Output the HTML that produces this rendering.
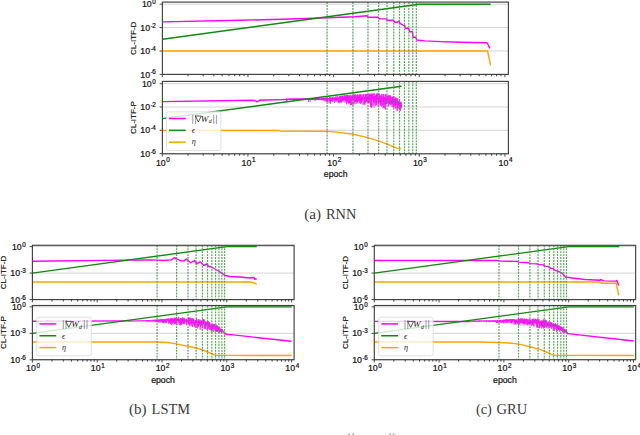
<!DOCTYPE html><html><head><meta charset="utf-8"><style>html,body{margin:0;padding:0;background:#fff;width:640px;height:435px;overflow:hidden}</style></head><body><svg width="640" height="435" viewBox="0 0 640 435" style="display:block">
<style>.tl{font-family:"Liberation Sans",sans-serif;fill:#111;stroke:#111;stroke-width:0.22}.cap{font-family:"Liberation Serif",serif;fill:#3a3a3a}.lg{font-family:"Liberation Serif",serif;font-style:italic;fill:#222}</style>
<rect width="640" height="435" fill="#fff"/>
<line x1="162.4" y1="4.2" x2="508.4" y2="4.2" stroke="#d4d4d4" stroke-width="1.0"/>
<line x1="162.4" y1="27.6" x2="508.4" y2="27.6" stroke="#d4d4d4" stroke-width="1.0"/>
<line x1="162.4" y1="51" x2="508.4" y2="51" stroke="#d4d4d4" stroke-width="1.0"/>
<line x1="162.4" y1="74.4" x2="508.4" y2="74.4" stroke="#d4d4d4" stroke-width="1.0"/>
<path d="M162.4 21.9 L240 20.3 L300 18.75 L327 17.8 L355 16.8 L367 15.7 L368.1 17.25 L378 17.25 L379.3 18.7 L386.2 18.9 L387.8 20.5 L393.3 20.3 L394.9 22.3 L397.1 22.3 L398.7 21.2 L400.4 23.6 L403.1 25.2 L404.8 25.6 L405.3 28.2 L408.6 28.2 L409.7 31.8 L412.4 31.8 L413 37.3 L415.7 37.3 L416.8 40 L425 40.9 L440 41.6 L460 42.2 L487 42.75 L490 48.4" fill="none" stroke="#ff00ff" stroke-width="1.4" stroke-linejoin="round" />
<path d="M162.4 51 L487.5 51 L489.5 60 L490.6 65.3" fill="none" stroke="#ffa500" stroke-width="1.4" stroke-linejoin="round" />
<path d="M162.4 39.3 L419.25 4.2 L490.6 4.2" fill="none" stroke="#118811" stroke-width="1.4" stroke-linejoin="round" />
<line x1="327.11" y1="2.1" x2="327.11" y2="74.4" stroke="#3a983a" stroke-opacity="0.85" stroke-width="1.2" stroke-dasharray="1.9 1.05"/>
<line x1="352.9" y1="2.1" x2="352.9" y2="74.4" stroke="#3a983a" stroke-opacity="0.85" stroke-width="1.2" stroke-dasharray="1.9 1.05"/>
<line x1="367.98" y1="2.1" x2="367.98" y2="74.4" stroke="#3a983a" stroke-opacity="0.85" stroke-width="1.2" stroke-dasharray="1.9 1.05"/>
<line x1="378.68" y1="2.1" x2="378.68" y2="74.4" stroke="#3a983a" stroke-opacity="0.85" stroke-width="1.2" stroke-dasharray="1.9 1.05"/>
<line x1="386.98" y1="2.1" x2="386.98" y2="74.4" stroke="#3a983a" stroke-opacity="0.85" stroke-width="1.2" stroke-dasharray="1.9 1.05"/>
<line x1="393.76" y1="2.1" x2="393.76" y2="74.4" stroke="#3a983a" stroke-opacity="0.85" stroke-width="1.2" stroke-dasharray="1.9 1.05"/>
<line x1="399.5" y1="2.1" x2="399.5" y2="74.4" stroke="#3a983a" stroke-opacity="0.85" stroke-width="1.2" stroke-dasharray="1.9 1.05"/>
<line x1="404.46" y1="2.1" x2="404.46" y2="74.4" stroke="#3a983a" stroke-opacity="0.85" stroke-width="1.2" stroke-dasharray="1.9 1.05"/>
<line x1="408.85" y1="2.1" x2="408.85" y2="74.4" stroke="#3a983a" stroke-opacity="0.85" stroke-width="1.2" stroke-dasharray="1.9 1.05"/>
<line x1="412.76" y1="2.1" x2="412.76" y2="74.4" stroke="#3a983a" stroke-opacity="0.85" stroke-width="1.2" stroke-dasharray="1.9 1.05"/>
<line x1="416.31" y1="2.1" x2="416.31" y2="74.4" stroke="#3a983a" stroke-opacity="0.85" stroke-width="1.2" stroke-dasharray="1.9 1.05"/>
<rect x="162.4" y="2.1" width="346" height="72.3" fill="none" stroke="#404040" stroke-width="1.15"/>
<line x1="159.6" y1="4.2" x2="162.4" y2="4.2" stroke="#404040" stroke-width="0.95"/>
<line x1="159.6" y1="27.6" x2="162.4" y2="27.6" stroke="#404040" stroke-width="0.95"/>
<line x1="159.6" y1="51" x2="162.4" y2="51" stroke="#404040" stroke-width="0.95"/>
<line x1="159.6" y1="74.4" x2="162.4" y2="74.4" stroke="#404040" stroke-width="0.95"/>
<line x1="162.3" y1="74.4" x2="162.3" y2="77.2" stroke="#404040" stroke-width="0.95"/>
<line x1="188.08" y1="74.4" x2="188.08" y2="76.3" stroke="#2a2a2a" stroke-width="0.9"/>
<line x1="203.17" y1="74.4" x2="203.17" y2="76.3" stroke="#2a2a2a" stroke-width="0.9"/>
<line x1="213.87" y1="74.4" x2="213.87" y2="76.3" stroke="#2a2a2a" stroke-width="0.9"/>
<line x1="222.17" y1="74.4" x2="222.17" y2="76.3" stroke="#2a2a2a" stroke-width="0.9"/>
<line x1="228.95" y1="74.4" x2="228.95" y2="76.3" stroke="#2a2a2a" stroke-width="0.9"/>
<line x1="234.68" y1="74.4" x2="234.68" y2="76.3" stroke="#2a2a2a" stroke-width="0.9"/>
<line x1="239.65" y1="74.4" x2="239.65" y2="76.3" stroke="#2a2a2a" stroke-width="0.9"/>
<line x1="244.03" y1="74.4" x2="244.03" y2="76.3" stroke="#2a2a2a" stroke-width="0.9"/>
<line x1="247.95" y1="74.4" x2="247.95" y2="77.2" stroke="#404040" stroke-width="0.95"/>
<line x1="273.73" y1="74.4" x2="273.73" y2="76.3" stroke="#2a2a2a" stroke-width="0.9"/>
<line x1="288.82" y1="74.4" x2="288.82" y2="76.3" stroke="#2a2a2a" stroke-width="0.9"/>
<line x1="299.52" y1="74.4" x2="299.52" y2="76.3" stroke="#2a2a2a" stroke-width="0.9"/>
<line x1="307.82" y1="74.4" x2="307.82" y2="76.3" stroke="#2a2a2a" stroke-width="0.9"/>
<line x1="314.6" y1="74.4" x2="314.6" y2="76.3" stroke="#2a2a2a" stroke-width="0.9"/>
<line x1="320.33" y1="74.4" x2="320.33" y2="76.3" stroke="#2a2a2a" stroke-width="0.9"/>
<line x1="325.3" y1="74.4" x2="325.3" y2="76.3" stroke="#2a2a2a" stroke-width="0.9"/>
<line x1="329.68" y1="74.4" x2="329.68" y2="76.3" stroke="#2a2a2a" stroke-width="0.9"/>
<line x1="333.6" y1="74.4" x2="333.6" y2="77.2" stroke="#404040" stroke-width="0.95"/>
<line x1="359.38" y1="74.4" x2="359.38" y2="76.3" stroke="#2a2a2a" stroke-width="0.9"/>
<line x1="374.47" y1="74.4" x2="374.47" y2="76.3" stroke="#2a2a2a" stroke-width="0.9"/>
<line x1="385.17" y1="74.4" x2="385.17" y2="76.3" stroke="#2a2a2a" stroke-width="0.9"/>
<line x1="393.47" y1="74.4" x2="393.47" y2="76.3" stroke="#2a2a2a" stroke-width="0.9"/>
<line x1="400.25" y1="74.4" x2="400.25" y2="76.3" stroke="#2a2a2a" stroke-width="0.9"/>
<line x1="405.98" y1="74.4" x2="405.98" y2="76.3" stroke="#2a2a2a" stroke-width="0.9"/>
<line x1="410.95" y1="74.4" x2="410.95" y2="76.3" stroke="#2a2a2a" stroke-width="0.9"/>
<line x1="415.33" y1="74.4" x2="415.33" y2="76.3" stroke="#2a2a2a" stroke-width="0.9"/>
<line x1="419.25" y1="74.4" x2="419.25" y2="77.2" stroke="#404040" stroke-width="0.95"/>
<line x1="445.03" y1="74.4" x2="445.03" y2="76.3" stroke="#2a2a2a" stroke-width="0.9"/>
<line x1="460.12" y1="74.4" x2="460.12" y2="76.3" stroke="#2a2a2a" stroke-width="0.9"/>
<line x1="470.82" y1="74.4" x2="470.82" y2="76.3" stroke="#2a2a2a" stroke-width="0.9"/>
<line x1="479.12" y1="74.4" x2="479.12" y2="76.3" stroke="#2a2a2a" stroke-width="0.9"/>
<line x1="485.9" y1="74.4" x2="485.9" y2="76.3" stroke="#2a2a2a" stroke-width="0.9"/>
<line x1="491.63" y1="74.4" x2="491.63" y2="76.3" stroke="#2a2a2a" stroke-width="0.9"/>
<line x1="496.6" y1="74.4" x2="496.6" y2="76.3" stroke="#2a2a2a" stroke-width="0.9"/>
<line x1="500.98" y1="74.4" x2="500.98" y2="76.3" stroke="#2a2a2a" stroke-width="0.9"/>
<line x1="504.9" y1="74.4" x2="504.9" y2="77.2" stroke="#404040" stroke-width="0.95"/>
<text x="155.8" y="7.3" text-anchor="end" class="tl" font-size="8.8">10<tspan dx="0.6" dy="-3.1" font-size="6.3">0</tspan></text>
<text x="155.8" y="30.7" text-anchor="end" class="tl" font-size="8.8">10<tspan dx="0.6" dy="-3.1" font-size="4.8">-</tspan><tspan font-size="6.3">2</tspan></text>
<text x="155.8" y="54.1" text-anchor="end" class="tl" font-size="8.8">10<tspan dx="0.6" dy="-3.1" font-size="4.8">-</tspan><tspan font-size="6.3">4</tspan></text>
<text x="155.8" y="77.5" text-anchor="end" class="tl" font-size="8.8">10<tspan dx="0.6" dy="-3.1" font-size="4.8">-</tspan><tspan font-size="6.3">6</tspan></text>
<text x="136" y="38.3" text-anchor="middle" class="tl" style="stroke-width:0.16" font-size="8.0" transform="rotate(-90 136 38.3)">CL-ITF-D</text>
<line x1="162.4" y1="83.7" x2="508.4" y2="83.7" stroke="#d4d4d4" stroke-width="1.0"/>
<line x1="162.4" y1="107" x2="508.4" y2="107" stroke="#d4d4d4" stroke-width="1.0"/>
<line x1="162.4" y1="130.3" x2="508.4" y2="130.3" stroke="#d4d4d4" stroke-width="1.0"/>
<line x1="162.4" y1="153.6" x2="508.4" y2="153.6" stroke="#d4d4d4" stroke-width="1.0"/>
<path d="M162.4 101.6 L252 100.2 L255 100.6 L257 101.8 L259.5 100.3 L290 99.4 L320 99.3" fill="none" stroke="#ff00ff" stroke-width="1.4" stroke-linejoin="round" />
<path d="M286 98.82V99.3M286.5 98.63V100.74M287 98.59V101.5M287.5 98.58V99.09M288 98.75V99.02M288.5 98.64V99.34M289 98.74V99.12M289.5 98.58V99.34M290 98.55V99.08M290.5 98.55V99.26M291 98.55V98.95M291.5 98.56V99.32M292 98.64V99.34M292.5 98.63V99.02M293 98.66V99.51M293.5 98.53V101.31M294 98.49V99.03M294.5 98.49V99.22M295 98.48V99.04M295.5 98.46V99.47M296 98.46V99.15M296.5 98.49V99.05M297 98.73V99.28M297.5 98.44V99.03M298 98.45V99.52M298.5 98.69V101.04M299 98.41V99.3M299.5 98.63V99.38M300 98.44V99.08M300.5 98.48V99.43M301 98.4V99.43M301.5 98.61V99.42M302 98.54V99.11M302.5 98.4V99.83M303 98.37V99.42M303.5 98.41V99.61M304 98.64V99.26M304.5 98.34V99.12M305 98.45V99.6M305.5 98.39V99.5M306 98.3V99.52M306.5 98.5V99.57M307 98.29V99.66M307.5 98.5V99.72M308 98.32V99.68M308.5 98.27V101.96M309 98.49V99.07M309.5 98.59V99.5M310 98.34V102.14M310.5 98.38V99.34M311 98.29V99.61M311.5 98.23V99.14M312 98.22V99.45M312.5 98.26V99.04M313 98.23V99.34M313.5 98.49V99.34M314 98.27V99.45M314.5 98.16V99.4M315 98.15V101.24M315.5 98.35V99.54M316 98.24V99.53M316.5 98.13V99.52M317 98.15V99.68M317.5 98.24V99.67M318 98.18V99.55" fill="none" stroke="#ff00ff" stroke-width="0.8"/>
<path d="M318 98.41V99.45M318.5 98.59V99.72M319 98.43V99.88M319.5 98.45V99.37M320 98.21V99.61M320.5 98.5V99.9M321 98.31V100.04M321.5 98.05V100.23M322 98.16V99.91M322.5 97.92V100.26M323 97.84V99.77M323.5 97.8V100.67M324 97.92V100.26M324.5 98.09V101.12M325 97.99V99.78M325.5 97.52V101.66M326 97.79V99.66M326.5 97.38V102.02M327 97.88V101.2M327.5 97.48V102.05M328 98.34V100.92M328.5 98.44V99.87M329 98.09V103.49M329.5 97.1V101.02M330 97.01V102.59M330.5 97.35V103.94M331 97.98V102.44M331.5 97.65V101.18M332 97.17V99.91M332.5 97.14V102.09M333 96.71V101.51M333.5 97.9V99.62M334 97.87V100.53M334.5 97.48V103.11M335 96.76V101.49M335.5 97.09V101.43M336 96.5V99.93M336.5 97.63V100.97M337 96.34V100.92M337.5 96.22V101.4M338 97.63V102.74M338.5 97.68V103.25M339 96.99V99.81M339.5 96.28V103.2M340 95.97V99.74M340.5 95.76V102.03M341 95.85V102.96M341.5 95.73V102.71M342 96.18V101.52M342.5 95.51V100.6M343 95.92V100.53M343.5 97.48V101.59M344 95.32V99.72M344.5 95.19V100.58M345 95.83V103.17M345.5 95.45V101.71M346 95.34V101.33M346.5 95.15V104.45M347 95.53V103.07M347.5 95V101.15M348 95.23V102.09M348.5 96.61V103.86M349 94.75V103.18M349.5 95.29V103.12M350 95.07V104.6M350.5 96.58V105.06M351 94.61V100.6M351.5 95.82V105.26M352 95.66V104.52M352.5 95.31V99.8M353 94.56V105.64M353.5 94.64V100.81M354 95.53V104.47M354.5 94.34V103.66M355 94.75V101.47M355.5 94.28V102.05M356 96.98V103.94M356.5 94.91V101.54M357 96.96V103.92M357.5 94.19V102.74M358 94.7V101.3M358.5 96.73V101.02M359 94.47V101.8M359.5 94.22V103.38M360 94.85V100.92M360.5 94.35V103.78M361 94.18V103.73M361.5 96.81V102.57M362 94.13V102.27M362.5 96.76V100.6M363 94.08V104.92M363.5 93.92V99.86M364 96.43V104.68M364.5 97.02V104.74M365 93.95V104.69M365.5 93.82V103.49M366 94.24V102.09M366.5 93.77V101.67M367 96.7V100.69M367.5 93.86V102.59M368 95.9V103.36M368.5 94.39V103.01M369 93.72V102.92M369.5 93.55V103.46M370 95.49V99.94M370.5 93.46V107.19M371 95.32V107.34M371.5 93.61V107.81M372 93.54V106.47M372.5 93.52V99.23M373 96.2V105.78M373.5 93.15V102.41M374 96.43V107.7M374.5 93.28V103.73M375 96.18V101.37M375.5 95.07V106.12M376 94.47V102.59M376.5 93.64V105.07M377 93.35V104.53M377.5 93.27V100M378 93.7V106.71M378.5 97.01V102.65M379 93.43V104.58M379.5 94.2V102.65M380 94.95V105.7M380.5 96.26V105.87M381 96.28V103.27M381.5 94.18V106.79M382 93.93V102.91M382.5 96.73V105.5M383 94.4V108.43M383.5 94.05V107.62M384 97.66V101.94M384.5 96.52V108.61M385 94.01V104.24M385.5 94.19V109.72M386 97.44V104.97M386.5 94.93V104.08M387 97.66V102.35M387.5 95.83V103.46M388 94.58V103.29M388.5 96.01V106.75M389 94.8V104.12M389.5 95.08V104.07M390 97.44V105.42M390.5 95.29V104.83M391 96.89V102.56M391.5 97.29V104.65M392 96.04V107.09M392.5 96.99V104.44M393 98.63V107.49M393.5 96.34V106.87M394 96.42V108.21M394.5 98.93V105.99M395 97.55V104.43M395.5 98.07V108.4M396 97.28V108.62M396.5 98.3V104.99M397 98.56V111.34M397.5 98.65V110.32M398 98.21V105.31M398.5 101.32V108.44M399 101.2V107.58M399.5 100.36V110.59M400 101.67V107.07M400.5 102.56V111.14M401 101.42V109.16M401.5 102.36V107.5" fill="none" stroke="#ff00ff" stroke-width="0.8"/>
<path d="M162.4 130.5 L279 130.5 L280 131.1 L327 131.2 L334 131.9 L352.3 134 L367.8 137.6 L378.4 140.8 L386.8 143.9 L393.1 146.7 L396.7 148.1 L401.2 148.5" fill="none" stroke="#ffa500" stroke-width="1.4" stroke-linejoin="round" />
<path d="M162.4 118.65 L401.5 86.19" fill="none" stroke="#118811" stroke-width="1.4" stroke-linejoin="round" />
<line x1="327.11" y1="81.4" x2="327.11" y2="153.8" stroke="#3a983a" stroke-opacity="0.85" stroke-width="1.2" stroke-dasharray="1.9 1.05"/>
<line x1="352.9" y1="81.4" x2="352.9" y2="153.8" stroke="#3a983a" stroke-opacity="0.85" stroke-width="1.2" stroke-dasharray="1.9 1.05"/>
<line x1="367.98" y1="81.4" x2="367.98" y2="153.8" stroke="#3a983a" stroke-opacity="0.85" stroke-width="1.2" stroke-dasharray="1.9 1.05"/>
<line x1="378.68" y1="81.4" x2="378.68" y2="153.8" stroke="#3a983a" stroke-opacity="0.85" stroke-width="1.2" stroke-dasharray="1.9 1.05"/>
<line x1="386.98" y1="81.4" x2="386.98" y2="153.8" stroke="#3a983a" stroke-opacity="0.85" stroke-width="1.2" stroke-dasharray="1.9 1.05"/>
<line x1="393.76" y1="81.4" x2="393.76" y2="153.8" stroke="#3a983a" stroke-opacity="0.85" stroke-width="1.2" stroke-dasharray="1.9 1.05"/>
<line x1="399.5" y1="81.4" x2="399.5" y2="153.8" stroke="#3a983a" stroke-opacity="0.85" stroke-width="1.2" stroke-dasharray="1.9 1.05"/>
<line x1="404.46" y1="81.4" x2="404.46" y2="153.8" stroke="#3a983a" stroke-opacity="0.85" stroke-width="1.2" stroke-dasharray="1.9 1.05"/>
<line x1="408.85" y1="81.4" x2="408.85" y2="153.8" stroke="#3a983a" stroke-opacity="0.85" stroke-width="1.2" stroke-dasharray="1.9 1.05"/>
<line x1="412.76" y1="81.4" x2="412.76" y2="153.8" stroke="#3a983a" stroke-opacity="0.85" stroke-width="1.2" stroke-dasharray="1.9 1.05"/>
<line x1="416.31" y1="81.4" x2="416.31" y2="153.8" stroke="#3a983a" stroke-opacity="0.85" stroke-width="1.2" stroke-dasharray="1.9 1.05"/>
<rect x="166.4" y="111.8" width="54.5" height="38.6" rx="2" fill="#fff" fill-opacity="0.8" stroke="#d8d8d8" stroke-width="0.8"/>
<line x1="169" y1="118.5" x2="185.8" y2="118.5" stroke="#ff00ff" stroke-width="1.5"/>
<line x1="169" y1="130.35" x2="185.8" y2="130.35" stroke="#118811" stroke-width="1.5"/>
<line x1="169" y1="142.2" x2="185.8" y2="142.2" stroke="#ffa500" stroke-width="1.5"/>
<text x="191.3" y="121.7" class="lg" font-style="normal" font-size="9.4" letter-spacing="0.2">||</text>
<path d="M195.4 116 L201.3 116 L198.35 122 Z" fill="none" stroke="#222" stroke-width="0.75" stroke-linejoin="miter"/>
<text x="200.8" y="121.7" class="lg" font-size="9.2">W</text>
<text x="208.7" y="123.2" class="lg" font-size="5.8">d</text>
<text x="212.3" y="121.7" class="lg" font-style="normal" font-size="9.4" letter-spacing="0.2">||</text>
<text x="191.7" y="133.1" class="lg" font-size="8.2">ϵ</text>
<text x="191.7" y="144.4" class="lg" font-size="8.2">η</text>
<rect x="162.4" y="81.4" width="346" height="72.4" fill="none" stroke="#404040" stroke-width="1.15"/>
<line x1="159.6" y1="83.7" x2="162.4" y2="83.7" stroke="#404040" stroke-width="0.95"/>
<line x1="159.6" y1="107" x2="162.4" y2="107" stroke="#404040" stroke-width="0.95"/>
<line x1="159.6" y1="130.3" x2="162.4" y2="130.3" stroke="#404040" stroke-width="0.95"/>
<line x1="159.6" y1="153.6" x2="162.4" y2="153.6" stroke="#404040" stroke-width="0.95"/>
<line x1="162.3" y1="153.8" x2="162.3" y2="156.6" stroke="#404040" stroke-width="0.95"/>
<line x1="188.08" y1="153.8" x2="188.08" y2="155.7" stroke="#2a2a2a" stroke-width="0.9"/>
<line x1="203.17" y1="153.8" x2="203.17" y2="155.7" stroke="#2a2a2a" stroke-width="0.9"/>
<line x1="213.87" y1="153.8" x2="213.87" y2="155.7" stroke="#2a2a2a" stroke-width="0.9"/>
<line x1="222.17" y1="153.8" x2="222.17" y2="155.7" stroke="#2a2a2a" stroke-width="0.9"/>
<line x1="228.95" y1="153.8" x2="228.95" y2="155.7" stroke="#2a2a2a" stroke-width="0.9"/>
<line x1="234.68" y1="153.8" x2="234.68" y2="155.7" stroke="#2a2a2a" stroke-width="0.9"/>
<line x1="239.65" y1="153.8" x2="239.65" y2="155.7" stroke="#2a2a2a" stroke-width="0.9"/>
<line x1="244.03" y1="153.8" x2="244.03" y2="155.7" stroke="#2a2a2a" stroke-width="0.9"/>
<line x1="247.95" y1="153.8" x2="247.95" y2="156.6" stroke="#404040" stroke-width="0.95"/>
<line x1="273.73" y1="153.8" x2="273.73" y2="155.7" stroke="#2a2a2a" stroke-width="0.9"/>
<line x1="288.82" y1="153.8" x2="288.82" y2="155.7" stroke="#2a2a2a" stroke-width="0.9"/>
<line x1="299.52" y1="153.8" x2="299.52" y2="155.7" stroke="#2a2a2a" stroke-width="0.9"/>
<line x1="307.82" y1="153.8" x2="307.82" y2="155.7" stroke="#2a2a2a" stroke-width="0.9"/>
<line x1="314.6" y1="153.8" x2="314.6" y2="155.7" stroke="#2a2a2a" stroke-width="0.9"/>
<line x1="320.33" y1="153.8" x2="320.33" y2="155.7" stroke="#2a2a2a" stroke-width="0.9"/>
<line x1="325.3" y1="153.8" x2="325.3" y2="155.7" stroke="#2a2a2a" stroke-width="0.9"/>
<line x1="329.68" y1="153.8" x2="329.68" y2="155.7" stroke="#2a2a2a" stroke-width="0.9"/>
<line x1="333.6" y1="153.8" x2="333.6" y2="156.6" stroke="#404040" stroke-width="0.95"/>
<line x1="359.38" y1="153.8" x2="359.38" y2="155.7" stroke="#2a2a2a" stroke-width="0.9"/>
<line x1="374.47" y1="153.8" x2="374.47" y2="155.7" stroke="#2a2a2a" stroke-width="0.9"/>
<line x1="385.17" y1="153.8" x2="385.17" y2="155.7" stroke="#2a2a2a" stroke-width="0.9"/>
<line x1="393.47" y1="153.8" x2="393.47" y2="155.7" stroke="#2a2a2a" stroke-width="0.9"/>
<line x1="400.25" y1="153.8" x2="400.25" y2="155.7" stroke="#2a2a2a" stroke-width="0.9"/>
<line x1="405.98" y1="153.8" x2="405.98" y2="155.7" stroke="#2a2a2a" stroke-width="0.9"/>
<line x1="410.95" y1="153.8" x2="410.95" y2="155.7" stroke="#2a2a2a" stroke-width="0.9"/>
<line x1="415.33" y1="153.8" x2="415.33" y2="155.7" stroke="#2a2a2a" stroke-width="0.9"/>
<line x1="419.25" y1="153.8" x2="419.25" y2="156.6" stroke="#404040" stroke-width="0.95"/>
<line x1="445.03" y1="153.8" x2="445.03" y2="155.7" stroke="#2a2a2a" stroke-width="0.9"/>
<line x1="460.12" y1="153.8" x2="460.12" y2="155.7" stroke="#2a2a2a" stroke-width="0.9"/>
<line x1="470.82" y1="153.8" x2="470.82" y2="155.7" stroke="#2a2a2a" stroke-width="0.9"/>
<line x1="479.12" y1="153.8" x2="479.12" y2="155.7" stroke="#2a2a2a" stroke-width="0.9"/>
<line x1="485.9" y1="153.8" x2="485.9" y2="155.7" stroke="#2a2a2a" stroke-width="0.9"/>
<line x1="491.63" y1="153.8" x2="491.63" y2="155.7" stroke="#2a2a2a" stroke-width="0.9"/>
<line x1="496.6" y1="153.8" x2="496.6" y2="155.7" stroke="#2a2a2a" stroke-width="0.9"/>
<line x1="500.98" y1="153.8" x2="500.98" y2="155.7" stroke="#2a2a2a" stroke-width="0.9"/>
<line x1="504.9" y1="153.8" x2="504.9" y2="156.6" stroke="#404040" stroke-width="0.95"/>
<text x="155.8" y="86.8" text-anchor="end" class="tl" font-size="8.8">10<tspan dx="0.6" dy="-3.1" font-size="6.3">0</tspan></text>
<text x="155.8" y="110.1" text-anchor="end" class="tl" font-size="8.8">10<tspan dx="0.6" dy="-3.1" font-size="4.8">-</tspan><tspan font-size="6.3">2</tspan></text>
<text x="155.8" y="133.4" text-anchor="end" class="tl" font-size="8.8">10<tspan dx="0.6" dy="-3.1" font-size="4.8">-</tspan><tspan font-size="6.3">4</tspan></text>
<text x="155.8" y="156.7" text-anchor="end" class="tl" font-size="8.8">10<tspan dx="0.6" dy="-3.1" font-size="4.8">-</tspan><tspan font-size="6.3">6</tspan></text>
<text x="136" y="117.6" text-anchor="middle" class="tl" style="stroke-width:0.16" font-size="8.0" transform="rotate(-90 136 117.6)">CL-ITF-P</text>
<text x="162.9" y="165.5" text-anchor="middle" class="tl" font-size="8.8">10<tspan dx="0.6" dy="-3.1" font-size="6.3">0</tspan></text>
<text x="248.55" y="165.5" text-anchor="middle" class="tl" font-size="8.8">10<tspan dx="0.6" dy="-3.1" font-size="6.3">1</tspan></text>
<text x="334.2" y="165.5" text-anchor="middle" class="tl" font-size="8.8">10<tspan dx="0.6" dy="-3.1" font-size="6.3">2</tspan></text>
<text x="419.85" y="165.5" text-anchor="middle" class="tl" font-size="8.8">10<tspan dx="0.6" dy="-3.1" font-size="6.3">3</tspan></text>
<text x="505.5" y="165.5" text-anchor="middle" class="tl" font-size="8.8">10<tspan dx="0.6" dy="-3.1" font-size="6.3">4</tspan></text>
<text x="335.7" y="176.6" text-anchor="middle" class="tl" font-size="8.7">epoch</text>
<text x="304.2" y="218.6" class="cap" font-size="14" textLength="16.8" lengthAdjust="spacingAndGlyphs">(a)</text>
<text x="326" y="218.6" class="cap" font-size="14" textLength="30.3" lengthAdjust="spacingAndGlyphs">RNN</text>
<line x1="32.4" y1="246.6" x2="294.1" y2="246.6" stroke="#d4d4d4" stroke-width="1.0"/>
<line x1="32.4" y1="273.09" x2="294.1" y2="273.09" stroke="#d4d4d4" stroke-width="1.0"/>
<line x1="32.4" y1="299.58" x2="294.1" y2="299.58" stroke="#d4d4d4" stroke-width="1.0"/>
<path d="M32.4 261.3 L150 259.9 L157.5 260.1 L162.5 260.5 L171.25 259.9 L174.4 257.75 L176.25 258.6 L180 260.5 L183.75 261.1 L186.25 259 L187.5 259.9 L190.6 262.75 L194.4 260.5 L196.9 264 L200 261.75 L201.25 262.75 L203.75 265.5 L206.9 264 L208.75 266.5 L211.25 267 L215 269 L218.1 270.75 L222.5 273.6 L225 275.5 L230 276.5 L240 277 L250 278 L253.75 277.5 L255 279.25 L256.75 278.75" fill="none" stroke="#ff00ff" stroke-width="1.4" stroke-linejoin="round" />
<path d="M32.4 282 L250 282 L253 282.6 L256.75 284.2" fill="none" stroke="#ffa500" stroke-width="1.4" stroke-linejoin="round" />
<path d="M32.4 273.09 L226.8 246.6 L256.75 246.6" fill="none" stroke="#118811" stroke-width="1.4" stroke-linejoin="round" />
<line x1="157.09" y1="245.3" x2="157.09" y2="299.6" stroke="#3a983a" stroke-opacity="0.85" stroke-width="1.2" stroke-dasharray="1.9 1.05"/>
<line x1="176.6" y1="245.3" x2="176.6" y2="299.6" stroke="#3a983a" stroke-opacity="0.85" stroke-width="1.2" stroke-dasharray="1.9 1.05"/>
<line x1="188.01" y1="245.3" x2="188.01" y2="299.6" stroke="#3a983a" stroke-opacity="0.85" stroke-width="1.2" stroke-dasharray="1.9 1.05"/>
<line x1="196.11" y1="245.3" x2="196.11" y2="299.6" stroke="#3a983a" stroke-opacity="0.85" stroke-width="1.2" stroke-dasharray="1.9 1.05"/>
<line x1="202.39" y1="245.3" x2="202.39" y2="299.6" stroke="#3a983a" stroke-opacity="0.85" stroke-width="1.2" stroke-dasharray="1.9 1.05"/>
<line x1="207.52" y1="245.3" x2="207.52" y2="299.6" stroke="#3a983a" stroke-opacity="0.85" stroke-width="1.2" stroke-dasharray="1.9 1.05"/>
<line x1="211.86" y1="245.3" x2="211.86" y2="299.6" stroke="#3a983a" stroke-opacity="0.85" stroke-width="1.2" stroke-dasharray="1.9 1.05"/>
<line x1="215.61" y1="245.3" x2="215.61" y2="299.6" stroke="#3a983a" stroke-opacity="0.85" stroke-width="1.2" stroke-dasharray="1.9 1.05"/>
<line x1="218.93" y1="245.3" x2="218.93" y2="299.6" stroke="#3a983a" stroke-opacity="0.85" stroke-width="1.2" stroke-dasharray="1.9 1.05"/>
<line x1="221.89" y1="245.3" x2="221.89" y2="299.6" stroke="#3a983a" stroke-opacity="0.85" stroke-width="1.2" stroke-dasharray="1.9 1.05"/>
<line x1="224.58" y1="245.3" x2="224.58" y2="299.6" stroke="#3a983a" stroke-opacity="0.85" stroke-width="1.2" stroke-dasharray="1.9 1.05"/>
<rect x="32.4" y="245.3" width="261.7" height="54.3" fill="none" stroke="#404040" stroke-width="1.15"/>
<line x1="29.6" y1="246.6" x2="32.4" y2="246.6" stroke="#404040" stroke-width="0.95"/>
<line x1="29.6" y1="273.09" x2="32.4" y2="273.09" stroke="#404040" stroke-width="0.95"/>
<line x1="29.6" y1="299.58" x2="32.4" y2="299.58" stroke="#404040" stroke-width="0.95"/>
<line x1="32.4" y1="299.6" x2="32.4" y2="302.4" stroke="#404040" stroke-width="0.95"/>
<line x1="51.91" y1="299.6" x2="51.91" y2="301.5" stroke="#2a2a2a" stroke-width="0.9"/>
<line x1="63.32" y1="299.6" x2="63.32" y2="301.5" stroke="#2a2a2a" stroke-width="0.9"/>
<line x1="71.41" y1="299.6" x2="71.41" y2="301.5" stroke="#2a2a2a" stroke-width="0.9"/>
<line x1="77.69" y1="299.6" x2="77.69" y2="301.5" stroke="#2a2a2a" stroke-width="0.9"/>
<line x1="82.82" y1="299.6" x2="82.82" y2="301.5" stroke="#2a2a2a" stroke-width="0.9"/>
<line x1="87.16" y1="299.6" x2="87.16" y2="301.5" stroke="#2a2a2a" stroke-width="0.9"/>
<line x1="90.92" y1="299.6" x2="90.92" y2="301.5" stroke="#2a2a2a" stroke-width="0.9"/>
<line x1="94.23" y1="299.6" x2="94.23" y2="301.5" stroke="#2a2a2a" stroke-width="0.9"/>
<line x1="97.2" y1="299.6" x2="97.2" y2="302.4" stroke="#404040" stroke-width="0.95"/>
<line x1="116.71" y1="299.6" x2="116.71" y2="301.5" stroke="#2a2a2a" stroke-width="0.9"/>
<line x1="128.12" y1="299.6" x2="128.12" y2="301.5" stroke="#2a2a2a" stroke-width="0.9"/>
<line x1="136.21" y1="299.6" x2="136.21" y2="301.5" stroke="#2a2a2a" stroke-width="0.9"/>
<line x1="142.49" y1="299.6" x2="142.49" y2="301.5" stroke="#2a2a2a" stroke-width="0.9"/>
<line x1="147.62" y1="299.6" x2="147.62" y2="301.5" stroke="#2a2a2a" stroke-width="0.9"/>
<line x1="151.96" y1="299.6" x2="151.96" y2="301.5" stroke="#2a2a2a" stroke-width="0.9"/>
<line x1="155.72" y1="299.6" x2="155.72" y2="301.5" stroke="#2a2a2a" stroke-width="0.9"/>
<line x1="159.03" y1="299.6" x2="159.03" y2="301.5" stroke="#2a2a2a" stroke-width="0.9"/>
<line x1="162" y1="299.6" x2="162" y2="302.4" stroke="#404040" stroke-width="0.95"/>
<line x1="181.51" y1="299.6" x2="181.51" y2="301.5" stroke="#2a2a2a" stroke-width="0.9"/>
<line x1="192.92" y1="299.6" x2="192.92" y2="301.5" stroke="#2a2a2a" stroke-width="0.9"/>
<line x1="201.01" y1="299.6" x2="201.01" y2="301.5" stroke="#2a2a2a" stroke-width="0.9"/>
<line x1="207.29" y1="299.6" x2="207.29" y2="301.5" stroke="#2a2a2a" stroke-width="0.9"/>
<line x1="212.42" y1="299.6" x2="212.42" y2="301.5" stroke="#2a2a2a" stroke-width="0.9"/>
<line x1="216.76" y1="299.6" x2="216.76" y2="301.5" stroke="#2a2a2a" stroke-width="0.9"/>
<line x1="220.52" y1="299.6" x2="220.52" y2="301.5" stroke="#2a2a2a" stroke-width="0.9"/>
<line x1="223.83" y1="299.6" x2="223.83" y2="301.5" stroke="#2a2a2a" stroke-width="0.9"/>
<line x1="226.8" y1="299.6" x2="226.8" y2="302.4" stroke="#404040" stroke-width="0.95"/>
<line x1="246.31" y1="299.6" x2="246.31" y2="301.5" stroke="#2a2a2a" stroke-width="0.9"/>
<line x1="257.72" y1="299.6" x2="257.72" y2="301.5" stroke="#2a2a2a" stroke-width="0.9"/>
<line x1="265.81" y1="299.6" x2="265.81" y2="301.5" stroke="#2a2a2a" stroke-width="0.9"/>
<line x1="272.09" y1="299.6" x2="272.09" y2="301.5" stroke="#2a2a2a" stroke-width="0.9"/>
<line x1="277.22" y1="299.6" x2="277.22" y2="301.5" stroke="#2a2a2a" stroke-width="0.9"/>
<line x1="281.56" y1="299.6" x2="281.56" y2="301.5" stroke="#2a2a2a" stroke-width="0.9"/>
<line x1="285.32" y1="299.6" x2="285.32" y2="301.5" stroke="#2a2a2a" stroke-width="0.9"/>
<line x1="288.63" y1="299.6" x2="288.63" y2="301.5" stroke="#2a2a2a" stroke-width="0.9"/>
<line x1="291.6" y1="299.6" x2="291.6" y2="302.4" stroke="#404040" stroke-width="0.95"/>
<text x="25.8" y="249.7" text-anchor="end" class="tl" font-size="8.8">10<tspan dx="0.6" dy="-3.1" font-size="6.3">0</tspan></text>
<text x="25.8" y="276.19" text-anchor="end" class="tl" font-size="8.8">10<tspan dx="0.6" dy="-3.1" font-size="4.8">-</tspan><tspan font-size="6.3">3</tspan></text>
<text x="25.8" y="302.68" text-anchor="end" class="tl" font-size="8.8">10<tspan dx="0.6" dy="-3.1" font-size="4.8">-</tspan><tspan font-size="6.3">6</tspan></text>
<text x="6.2" y="272.5" text-anchor="middle" class="tl" style="stroke-width:0.16" font-size="8.0" transform="rotate(-90 6.2 272.5)">CL-ITF-D</text>
<line x1="32.4" y1="306.85" x2="294.1" y2="306.85" stroke="#d4d4d4" stroke-width="1.0"/>
<line x1="32.4" y1="333.34" x2="294.1" y2="333.34" stroke="#d4d4d4" stroke-width="1.0"/>
<line x1="32.4" y1="359.83" x2="294.1" y2="359.83" stroke="#d4d4d4" stroke-width="1.0"/>
<path d="M32.4 321.2 L130 320.9" fill="none" stroke="#ff00ff" stroke-width="1.4" stroke-linejoin="round" />
<path d="M129 320.53V321.21M129.5 320.6V321.48M130 320.76V321.35M130.5 320.61V321.57M131 320.61V321.42M131.5 320.45V321.44M132 320.69V321.13M132.5 320.42V321.62M133 320.41V321M133.5 320.55V321.48M134 320.56V321.03M134.5 320.41V321.55M135 320.63V321.03M135.5 320.64V321.63M136 320.35V321.08M136.5 320.58V321.62M137 320.56V321.49M137.5 320.3V321.05M138 320.3V321.26M138.5 320.27V321.21M139 320.46V321.27M139.5 320.61V321.37M140 320.39V320.94M140.5 320.3V321.5M141 320.41V321.34M141.5 320.5V320.99M142 320.2V320.87M142.5 320.42V321.56M143 320.27V321.34M143.5 320.17V321.39M144 320.44V321.2M144.5 320.17V321.15M145 320.23V321.03M145.5 320.11V321.61M146 320.37V321.59M146.5 320.16V321.34M147 320.07V321.84M147.5 320.08V321.27M148 320.16V321.4M148.5 320.06V321.52M149 320.29V321.83M149.5 320.07V321.41M150 320.34V321.81M150.5 319.97V321.59M151 320.09V321.16M151.5 320.3V321.34M152 319.88V322.01M152.5 319.8V321.22M153 319.81V321.78M153.5 319.77V321.28M154 320.01V321.08M154.5 319.62V321.6M155 320.02V322.13M155.5 319.56V321.93M156 319.52V321.67M156.5 319.57V322.2M157 319.6V321.94M157.5 319.37V322.09M158 319.77V322.58M158.5 319.54V322.29M159 319.25V322.37M159.5 319.71V322.26M160 319.55V322.16M160.5 319.15V322.04M161 319.18V322.32M161.5 319.37V321.48M162 319.12V322.19M162.5 319.36V322.96M163 319.29V322.71M163.5 319.03V323.21M164 319.05V321.38M164.5 319.73V322.45M165 319.01V322.65M165.5 318.89V323.02M166 318.86V322.42M166.5 318.51V323.21M167 319.21V321.42M167.5 318.53V321.16M168 318.53V320.84M168.5 318.51V323.72M169 318.31V322.1M169.5 319.52V323.25M170 319.12V322.93M170.5 318.08V324.13M171 318.66V323.29M171.5 318.04V325.08M172 318.6V324.45M172.5 318.23V322.72M173 317.83V324.7M173.5 319.06V322.46M174 317.82V323.28M174.5 317.65V324.15M175 317.71V322.76M175.5 317.91V323.91M176 317.76V324.97M176.5 317.16V325.24M177 318.22V321.97M177.5 317.77V320.93M178 318.99V324.97M178.5 316.97V322.08M179 318.39V323.29M179.5 318.93V324.91M180 318.93V324.45M180.5 318.17V325.48M181 318.82V322.46M181.5 317.88V324.94M182 319.09V324.03M182.5 317.45V322.25M183 317.38V324.04M183.5 317.98V324.22M184 319.21V321.44M184.5 318.03V324.4M185 319.22V323.58M185.5 319.77V322.14M186 318.61V321.81M186.5 318.8V325.44M187 320.02V324.32M187.5 319.7V322.03M188 318.29V323.69M188.5 317.16V324.5M189 318.56V323.15M189.5 317.6V325.42M190 317.51V326.73M190.5 318.11V324.07M191 320.1V325.85M191.5 318.05V324.42M192 318.82V326.4M192.5 318.08V327.01M193 319.01V323.16M193.5 318.4V324.42M194 319.5V326.55M194.5 320.81V326.69M195 319.87V327.41M195.5 320.2V325.11M196 319.72V328.08M196.5 318.39V323.36M197 320.74V327.45M197.5 320.48V328.4M198 319.02V325.91M198.5 319.3V327.18M199 321.49V324.33M199.5 319.39V325.06M200 320.42V329.71M200.5 319.76V326.98M201 322.16V329.59M201.5 320.54V325.32M202 320.41V325.66M202.5 319.3V328.13M203 321.51V324.64M203.5 319.07V324.07M204 319.43V328.37M204.5 319.5V328.77M205 321.73V328.84M205.5 321.02V329.2M206 322.49V326.85M206.5 321.76V324.95M207 321.74V329.9M207.5 320.66V329.18M208 322.1V328.07M208.5 320.95V329.09M209 322.33V326.89M209.5 322.04V330.03M210 322.68V328.74M210.5 324.83V330.62M211 323.58V327.57M211.5 324.95V331.48M212 324.2V332.42M212.5 323.53V329.38M213 324.79V329.7M213.5 324.04V331.8M214 323.66V327.22M214.5 324.15V330.6M215 325.73V328.03M215.5 325.69V331.55M216 324.08V331.54M216.5 325.47V331.95M217 325.1V331.06M217.5 325.75V331.89M218 326.35V331.8M218.5 327.19V330.65M219 327.61V332.86M219.5 326.56V332.99M220 327.21V332.25M220.5 328.81V332.26M221 328.73V331.44M221.5 328.89V333.01M222 329.38V332.55M222.5 329.24V331.45M223 330.06V332.09M223.5 331.15V332.57M224 331.39V333.56M224.5 332V334.42M225 332.65V334.18M225.5 333.31V334.23M226 333.78V334.77" fill="none" stroke="#ff00ff" stroke-width="0.8"/>
<path d="M225.5 334.2 L233 334.9 L291.5 341.3" fill="none" stroke="#ff00ff" stroke-width="1.4" stroke-linejoin="round" />
<path d="M32.4 342 L157 342 L168 342.5 L176 343.9 L187 346 L194.7 347.8 L202.5 349.8 L208.75 352.5 L215.8 355.4 L291.6 355.5" fill="none" stroke="#ffa500" stroke-width="1.4" stroke-linejoin="round" />
<path d="M32.4 333.34 L226.8 306.85 L291.75 306.85" fill="none" stroke="#118811" stroke-width="1.4" stroke-linejoin="round" />
<line x1="157.09" y1="305.5" x2="157.09" y2="359.7" stroke="#3a983a" stroke-opacity="0.85" stroke-width="1.2" stroke-dasharray="1.9 1.05"/>
<line x1="176.6" y1="305.5" x2="176.6" y2="359.7" stroke="#3a983a" stroke-opacity="0.85" stroke-width="1.2" stroke-dasharray="1.9 1.05"/>
<line x1="188.01" y1="305.5" x2="188.01" y2="359.7" stroke="#3a983a" stroke-opacity="0.85" stroke-width="1.2" stroke-dasharray="1.9 1.05"/>
<line x1="196.11" y1="305.5" x2="196.11" y2="359.7" stroke="#3a983a" stroke-opacity="0.85" stroke-width="1.2" stroke-dasharray="1.9 1.05"/>
<line x1="202.39" y1="305.5" x2="202.39" y2="359.7" stroke="#3a983a" stroke-opacity="0.85" stroke-width="1.2" stroke-dasharray="1.9 1.05"/>
<line x1="207.52" y1="305.5" x2="207.52" y2="359.7" stroke="#3a983a" stroke-opacity="0.85" stroke-width="1.2" stroke-dasharray="1.9 1.05"/>
<line x1="211.86" y1="305.5" x2="211.86" y2="359.7" stroke="#3a983a" stroke-opacity="0.85" stroke-width="1.2" stroke-dasharray="1.9 1.05"/>
<line x1="215.61" y1="305.5" x2="215.61" y2="359.7" stroke="#3a983a" stroke-opacity="0.85" stroke-width="1.2" stroke-dasharray="1.9 1.05"/>
<line x1="218.93" y1="305.5" x2="218.93" y2="359.7" stroke="#3a983a" stroke-opacity="0.85" stroke-width="1.2" stroke-dasharray="1.9 1.05"/>
<line x1="221.89" y1="305.5" x2="221.89" y2="359.7" stroke="#3a983a" stroke-opacity="0.85" stroke-width="1.2" stroke-dasharray="1.9 1.05"/>
<line x1="224.58" y1="305.5" x2="224.58" y2="359.7" stroke="#3a983a" stroke-opacity="0.85" stroke-width="1.2" stroke-dasharray="1.9 1.05"/>
<rect x="36.8" y="317.2" width="54.5" height="38.6" rx="2" fill="#fff" fill-opacity="0.8" stroke="#d8d8d8" stroke-width="0.8"/>
<line x1="39.4" y1="323.9" x2="56.2" y2="323.9" stroke="#ff00ff" stroke-width="1.5"/>
<line x1="39.4" y1="335.75" x2="56.2" y2="335.75" stroke="#118811" stroke-width="1.5"/>
<line x1="39.4" y1="347.6" x2="56.2" y2="347.6" stroke="#ffa500" stroke-width="1.5"/>
<text x="61.7" y="327.1" class="lg" font-style="normal" font-size="9.4" letter-spacing="0.2">||</text>
<path d="M65.8 321.4 L71.7 321.4 L68.75 327.4 Z" fill="none" stroke="#222" stroke-width="0.75" stroke-linejoin="miter"/>
<text x="71.2" y="327.1" class="lg" font-size="9.2">W</text>
<text x="79.1" y="328.6" class="lg" font-size="5.8">d</text>
<text x="82.7" y="327.1" class="lg" font-style="normal" font-size="9.4" letter-spacing="0.2">||</text>
<text x="62.1" y="338.5" class="lg" font-size="8.2">ϵ</text>
<text x="62.1" y="349.8" class="lg" font-size="8.2">η</text>
<rect x="32.4" y="305.5" width="261.7" height="54.2" fill="none" stroke="#404040" stroke-width="1.15"/>
<line x1="29.6" y1="306.85" x2="32.4" y2="306.85" stroke="#404040" stroke-width="0.95"/>
<line x1="29.6" y1="333.34" x2="32.4" y2="333.34" stroke="#404040" stroke-width="0.95"/>
<line x1="29.6" y1="359.83" x2="32.4" y2="359.83" stroke="#404040" stroke-width="0.95"/>
<line x1="32.4" y1="359.7" x2="32.4" y2="362.5" stroke="#404040" stroke-width="0.95"/>
<line x1="51.91" y1="359.7" x2="51.91" y2="361.6" stroke="#2a2a2a" stroke-width="0.9"/>
<line x1="63.32" y1="359.7" x2="63.32" y2="361.6" stroke="#2a2a2a" stroke-width="0.9"/>
<line x1="71.41" y1="359.7" x2="71.41" y2="361.6" stroke="#2a2a2a" stroke-width="0.9"/>
<line x1="77.69" y1="359.7" x2="77.69" y2="361.6" stroke="#2a2a2a" stroke-width="0.9"/>
<line x1="82.82" y1="359.7" x2="82.82" y2="361.6" stroke="#2a2a2a" stroke-width="0.9"/>
<line x1="87.16" y1="359.7" x2="87.16" y2="361.6" stroke="#2a2a2a" stroke-width="0.9"/>
<line x1="90.92" y1="359.7" x2="90.92" y2="361.6" stroke="#2a2a2a" stroke-width="0.9"/>
<line x1="94.23" y1="359.7" x2="94.23" y2="361.6" stroke="#2a2a2a" stroke-width="0.9"/>
<line x1="97.2" y1="359.7" x2="97.2" y2="362.5" stroke="#404040" stroke-width="0.95"/>
<line x1="116.71" y1="359.7" x2="116.71" y2="361.6" stroke="#2a2a2a" stroke-width="0.9"/>
<line x1="128.12" y1="359.7" x2="128.12" y2="361.6" stroke="#2a2a2a" stroke-width="0.9"/>
<line x1="136.21" y1="359.7" x2="136.21" y2="361.6" stroke="#2a2a2a" stroke-width="0.9"/>
<line x1="142.49" y1="359.7" x2="142.49" y2="361.6" stroke="#2a2a2a" stroke-width="0.9"/>
<line x1="147.62" y1="359.7" x2="147.62" y2="361.6" stroke="#2a2a2a" stroke-width="0.9"/>
<line x1="151.96" y1="359.7" x2="151.96" y2="361.6" stroke="#2a2a2a" stroke-width="0.9"/>
<line x1="155.72" y1="359.7" x2="155.72" y2="361.6" stroke="#2a2a2a" stroke-width="0.9"/>
<line x1="159.03" y1="359.7" x2="159.03" y2="361.6" stroke="#2a2a2a" stroke-width="0.9"/>
<line x1="162" y1="359.7" x2="162" y2="362.5" stroke="#404040" stroke-width="0.95"/>
<line x1="181.51" y1="359.7" x2="181.51" y2="361.6" stroke="#2a2a2a" stroke-width="0.9"/>
<line x1="192.92" y1="359.7" x2="192.92" y2="361.6" stroke="#2a2a2a" stroke-width="0.9"/>
<line x1="201.01" y1="359.7" x2="201.01" y2="361.6" stroke="#2a2a2a" stroke-width="0.9"/>
<line x1="207.29" y1="359.7" x2="207.29" y2="361.6" stroke="#2a2a2a" stroke-width="0.9"/>
<line x1="212.42" y1="359.7" x2="212.42" y2="361.6" stroke="#2a2a2a" stroke-width="0.9"/>
<line x1="216.76" y1="359.7" x2="216.76" y2="361.6" stroke="#2a2a2a" stroke-width="0.9"/>
<line x1="220.52" y1="359.7" x2="220.52" y2="361.6" stroke="#2a2a2a" stroke-width="0.9"/>
<line x1="223.83" y1="359.7" x2="223.83" y2="361.6" stroke="#2a2a2a" stroke-width="0.9"/>
<line x1="226.8" y1="359.7" x2="226.8" y2="362.5" stroke="#404040" stroke-width="0.95"/>
<line x1="246.31" y1="359.7" x2="246.31" y2="361.6" stroke="#2a2a2a" stroke-width="0.9"/>
<line x1="257.72" y1="359.7" x2="257.72" y2="361.6" stroke="#2a2a2a" stroke-width="0.9"/>
<line x1="265.81" y1="359.7" x2="265.81" y2="361.6" stroke="#2a2a2a" stroke-width="0.9"/>
<line x1="272.09" y1="359.7" x2="272.09" y2="361.6" stroke="#2a2a2a" stroke-width="0.9"/>
<line x1="277.22" y1="359.7" x2="277.22" y2="361.6" stroke="#2a2a2a" stroke-width="0.9"/>
<line x1="281.56" y1="359.7" x2="281.56" y2="361.6" stroke="#2a2a2a" stroke-width="0.9"/>
<line x1="285.32" y1="359.7" x2="285.32" y2="361.6" stroke="#2a2a2a" stroke-width="0.9"/>
<line x1="288.63" y1="359.7" x2="288.63" y2="361.6" stroke="#2a2a2a" stroke-width="0.9"/>
<line x1="291.6" y1="359.7" x2="291.6" y2="362.5" stroke="#404040" stroke-width="0.95"/>
<text x="25.8" y="309.95" text-anchor="end" class="tl" font-size="8.8">10<tspan dx="0.6" dy="-3.1" font-size="6.3">0</tspan></text>
<text x="25.8" y="336.44" text-anchor="end" class="tl" font-size="8.8">10<tspan dx="0.6" dy="-3.1" font-size="4.8">-</tspan><tspan font-size="6.3">3</tspan></text>
<text x="25.8" y="362.93" text-anchor="end" class="tl" font-size="8.8">10<tspan dx="0.6" dy="-3.1" font-size="4.8">-</tspan><tspan font-size="6.3">6</tspan></text>
<text x="6.2" y="332.6" text-anchor="middle" class="tl" style="stroke-width:0.16" font-size="8.0" transform="rotate(-90 6.2 332.6)">CL-ITF-P</text>
<text x="33" y="371.3" text-anchor="middle" class="tl" font-size="8.8">10<tspan dx="0.6" dy="-3.1" font-size="6.3">0</tspan></text>
<text x="97.8" y="371.3" text-anchor="middle" class="tl" font-size="8.8">10<tspan dx="0.6" dy="-3.1" font-size="6.3">1</tspan></text>
<text x="162.6" y="371.3" text-anchor="middle" class="tl" font-size="8.8">10<tspan dx="0.6" dy="-3.1" font-size="6.3">2</tspan></text>
<text x="227.4" y="371.3" text-anchor="middle" class="tl" font-size="8.8">10<tspan dx="0.6" dy="-3.1" font-size="6.3">3</tspan></text>
<text x="292.2" y="371.3" text-anchor="middle" class="tl" font-size="8.8">10<tspan dx="0.6" dy="-3.1" font-size="6.3">4</tspan></text>
<text x="163" y="382.5" text-anchor="middle" class="tl" font-size="8.7">epoch</text>
<text x="128.9" y="414.2" class="cap" font-size="14" textLength="17.6" lengthAdjust="spacingAndGlyphs">(b)</text>
<text x="151.6" y="414.2" class="cap" font-size="14" textLength="38.4" lengthAdjust="spacingAndGlyphs">LSTM</text>
<line x1="374.3" y1="246.6" x2="635.65" y2="246.6" stroke="#d4d4d4" stroke-width="1.0"/>
<line x1="374.3" y1="273.09" x2="635.65" y2="273.09" stroke="#d4d4d4" stroke-width="1.0"/>
<line x1="374.3" y1="299.58" x2="635.65" y2="299.58" stroke="#d4d4d4" stroke-width="1.0"/>
<path d="M374.3 260.5 L498.5 260.5 L499.4 261.1 L517.5 261.4 L518.75 262.1 L528.75 262.75 L530 263.6 L536.9 263.9 L538.1 264.5 L543.1 264.9 L545 266.1 L548.1 266.5 L550 268 L553.1 268.6 L555 270.25 L557.5 271.1 L560 272.2 L562.5 273.6 L565.6 277 L572.5 278 L585 279.5 L600 280.25 L600.6 279.5 L603.75 280.9 L616.25 281.1 L616.9 280.5 L618.75 285.5" fill="none" stroke="#ff00ff" stroke-width="1.4" stroke-linejoin="round" />
<path d="M374.3 282 L600 282 L601.25 283.25 L616.25 283.25 L618.75 295.25" fill="none" stroke="#ffa500" stroke-width="1.4" stroke-linejoin="round" />
<path d="M374.3 273.09 L568.7 246.6 L619.25 246.6" fill="none" stroke="#118811" stroke-width="1.4" stroke-linejoin="round" />
<line x1="498.99" y1="245.3" x2="498.99" y2="299.6" stroke="#3a983a" stroke-opacity="0.85" stroke-width="1.2" stroke-dasharray="1.9 1.05"/>
<line x1="518.5" y1="245.3" x2="518.5" y2="299.6" stroke="#3a983a" stroke-opacity="0.85" stroke-width="1.2" stroke-dasharray="1.9 1.05"/>
<line x1="529.91" y1="245.3" x2="529.91" y2="299.6" stroke="#3a983a" stroke-opacity="0.85" stroke-width="1.2" stroke-dasharray="1.9 1.05"/>
<line x1="538.01" y1="245.3" x2="538.01" y2="299.6" stroke="#3a983a" stroke-opacity="0.85" stroke-width="1.2" stroke-dasharray="1.9 1.05"/>
<line x1="544.29" y1="245.3" x2="544.29" y2="299.6" stroke="#3a983a" stroke-opacity="0.85" stroke-width="1.2" stroke-dasharray="1.9 1.05"/>
<line x1="549.42" y1="245.3" x2="549.42" y2="299.6" stroke="#3a983a" stroke-opacity="0.85" stroke-width="1.2" stroke-dasharray="1.9 1.05"/>
<line x1="553.76" y1="245.3" x2="553.76" y2="299.6" stroke="#3a983a" stroke-opacity="0.85" stroke-width="1.2" stroke-dasharray="1.9 1.05"/>
<line x1="557.51" y1="245.3" x2="557.51" y2="299.6" stroke="#3a983a" stroke-opacity="0.85" stroke-width="1.2" stroke-dasharray="1.9 1.05"/>
<line x1="560.83" y1="245.3" x2="560.83" y2="299.6" stroke="#3a983a" stroke-opacity="0.85" stroke-width="1.2" stroke-dasharray="1.9 1.05"/>
<line x1="563.79" y1="245.3" x2="563.79" y2="299.6" stroke="#3a983a" stroke-opacity="0.85" stroke-width="1.2" stroke-dasharray="1.9 1.05"/>
<line x1="566.48" y1="245.3" x2="566.48" y2="299.6" stroke="#3a983a" stroke-opacity="0.85" stroke-width="1.2" stroke-dasharray="1.9 1.05"/>
<rect x="374.3" y="245.3" width="261.35" height="54.3" fill="none" stroke="#404040" stroke-width="1.15"/>
<line x1="371.5" y1="246.6" x2="374.3" y2="246.6" stroke="#404040" stroke-width="0.95"/>
<line x1="371.5" y1="273.09" x2="374.3" y2="273.09" stroke="#404040" stroke-width="0.95"/>
<line x1="371.5" y1="299.58" x2="374.3" y2="299.58" stroke="#404040" stroke-width="0.95"/>
<line x1="374.3" y1="299.6" x2="374.3" y2="302.4" stroke="#404040" stroke-width="0.95"/>
<line x1="393.81" y1="299.6" x2="393.81" y2="301.5" stroke="#2a2a2a" stroke-width="0.9"/>
<line x1="405.22" y1="299.6" x2="405.22" y2="301.5" stroke="#2a2a2a" stroke-width="0.9"/>
<line x1="413.31" y1="299.6" x2="413.31" y2="301.5" stroke="#2a2a2a" stroke-width="0.9"/>
<line x1="419.59" y1="299.6" x2="419.59" y2="301.5" stroke="#2a2a2a" stroke-width="0.9"/>
<line x1="424.72" y1="299.6" x2="424.72" y2="301.5" stroke="#2a2a2a" stroke-width="0.9"/>
<line x1="429.06" y1="299.6" x2="429.06" y2="301.5" stroke="#2a2a2a" stroke-width="0.9"/>
<line x1="432.82" y1="299.6" x2="432.82" y2="301.5" stroke="#2a2a2a" stroke-width="0.9"/>
<line x1="436.13" y1="299.6" x2="436.13" y2="301.5" stroke="#2a2a2a" stroke-width="0.9"/>
<line x1="439.1" y1="299.6" x2="439.1" y2="302.4" stroke="#404040" stroke-width="0.95"/>
<line x1="458.61" y1="299.6" x2="458.61" y2="301.5" stroke="#2a2a2a" stroke-width="0.9"/>
<line x1="470.02" y1="299.6" x2="470.02" y2="301.5" stroke="#2a2a2a" stroke-width="0.9"/>
<line x1="478.11" y1="299.6" x2="478.11" y2="301.5" stroke="#2a2a2a" stroke-width="0.9"/>
<line x1="484.39" y1="299.6" x2="484.39" y2="301.5" stroke="#2a2a2a" stroke-width="0.9"/>
<line x1="489.52" y1="299.6" x2="489.52" y2="301.5" stroke="#2a2a2a" stroke-width="0.9"/>
<line x1="493.86" y1="299.6" x2="493.86" y2="301.5" stroke="#2a2a2a" stroke-width="0.9"/>
<line x1="497.62" y1="299.6" x2="497.62" y2="301.5" stroke="#2a2a2a" stroke-width="0.9"/>
<line x1="500.93" y1="299.6" x2="500.93" y2="301.5" stroke="#2a2a2a" stroke-width="0.9"/>
<line x1="503.9" y1="299.6" x2="503.9" y2="302.4" stroke="#404040" stroke-width="0.95"/>
<line x1="523.41" y1="299.6" x2="523.41" y2="301.5" stroke="#2a2a2a" stroke-width="0.9"/>
<line x1="534.82" y1="299.6" x2="534.82" y2="301.5" stroke="#2a2a2a" stroke-width="0.9"/>
<line x1="542.91" y1="299.6" x2="542.91" y2="301.5" stroke="#2a2a2a" stroke-width="0.9"/>
<line x1="549.19" y1="299.6" x2="549.19" y2="301.5" stroke="#2a2a2a" stroke-width="0.9"/>
<line x1="554.32" y1="299.6" x2="554.32" y2="301.5" stroke="#2a2a2a" stroke-width="0.9"/>
<line x1="558.66" y1="299.6" x2="558.66" y2="301.5" stroke="#2a2a2a" stroke-width="0.9"/>
<line x1="562.42" y1="299.6" x2="562.42" y2="301.5" stroke="#2a2a2a" stroke-width="0.9"/>
<line x1="565.73" y1="299.6" x2="565.73" y2="301.5" stroke="#2a2a2a" stroke-width="0.9"/>
<line x1="568.7" y1="299.6" x2="568.7" y2="302.4" stroke="#404040" stroke-width="0.95"/>
<line x1="588.21" y1="299.6" x2="588.21" y2="301.5" stroke="#2a2a2a" stroke-width="0.9"/>
<line x1="599.62" y1="299.6" x2="599.62" y2="301.5" stroke="#2a2a2a" stroke-width="0.9"/>
<line x1="607.71" y1="299.6" x2="607.71" y2="301.5" stroke="#2a2a2a" stroke-width="0.9"/>
<line x1="613.99" y1="299.6" x2="613.99" y2="301.5" stroke="#2a2a2a" stroke-width="0.9"/>
<line x1="619.12" y1="299.6" x2="619.12" y2="301.5" stroke="#2a2a2a" stroke-width="0.9"/>
<line x1="623.46" y1="299.6" x2="623.46" y2="301.5" stroke="#2a2a2a" stroke-width="0.9"/>
<line x1="627.22" y1="299.6" x2="627.22" y2="301.5" stroke="#2a2a2a" stroke-width="0.9"/>
<line x1="630.53" y1="299.6" x2="630.53" y2="301.5" stroke="#2a2a2a" stroke-width="0.9"/>
<line x1="633.5" y1="299.6" x2="633.5" y2="302.4" stroke="#404040" stroke-width="0.95"/>
<text x="367.7" y="249.7" text-anchor="end" class="tl" font-size="8.8">10<tspan dx="0.6" dy="-3.1" font-size="6.3">0</tspan></text>
<text x="367.7" y="276.19" text-anchor="end" class="tl" font-size="8.8">10<tspan dx="0.6" dy="-3.1" font-size="4.8">-</tspan><tspan font-size="6.3">3</tspan></text>
<text x="367.7" y="302.68" text-anchor="end" class="tl" font-size="8.8">10<tspan dx="0.6" dy="-3.1" font-size="4.8">-</tspan><tspan font-size="6.3">6</tspan></text>
<text x="348.1" y="272.5" text-anchor="middle" class="tl" style="stroke-width:0.16" font-size="8.0" transform="rotate(-90 348.1 272.5)">CL-ITF-D</text>
<line x1="374.3" y1="306.85" x2="635.65" y2="306.85" stroke="#d4d4d4" stroke-width="1.0"/>
<line x1="374.3" y1="333.34" x2="635.65" y2="333.34" stroke="#d4d4d4" stroke-width="1.0"/>
<line x1="374.3" y1="359.83" x2="635.65" y2="359.83" stroke="#d4d4d4" stroke-width="1.0"/>
<path d="M374.3 321.4 L470 321.5" fill="none" stroke="#ff00ff" stroke-width="1.4" stroke-linejoin="round" />
<path d="M469 320.65V321.23M469.5 320.82V321.26M470 320.76V321.31M470.5 320.86V321.47M471 320.8V321.6M471.5 320.85V321.79M472 320.56V321.5M472.5 320.87V321.88M473 320.76V321.86M473.5 320.61V321.95M474 320.53V321.57M474.5 320.54V321.66M475 320.56V321.7M475.5 320.48V322.03M476 320.81V321.81M476.5 320.77V322.01M477 320.61V321.5M477.5 320.47V321.84M478 320.59V321.52M478.5 320.5V322.09M479 320.45V321.79M479.5 320.55V321.97M480 320.42V321.68M480.5 320.39V321.35M481 320.41V321.73M481.5 320.39V321.29M482 320.68V321.84M482.5 320.54V321.47M483 320.43V321.92M483.5 320.43V321.71M484 320.34V321.94M484.5 320.47V321.16M485 320.66V321.55M485.5 320.41V321.62M486 320.32V322.25M486.5 320.27V322.29M487 320.26V321.77M487.5 320.53V321.38M488 320.72V322.07M488.5 320.29V321.71M489 320.42V322.25M489.5 320.36V322.06M490 320.52V321.76M490.5 320.46V322.09M491 320.6V321.14M491.5 320.34V321.74M492 320.32V321.69M492.5 320.58V321.87M493 320.2V321.81M493.5 320.1V321.76M494 320.13V321.7M494.5 320.52V321.98M495 320V321.77M495.5 320.2V322.27M496 320.59V322.02M496.5 320.46V323.06M497 320.04V323.08M497.5 319.87V322.53M498 320.56V322.88M498.5 320.68V322.67M499 320.21V322.43M499.5 320.08V322.42M500 320.14V322.72M500.5 319.82V322.38M501 319.96V323.25M501.5 319.84V322.53M502 320.54V322.35M502.5 320.2V321.9M503 320.47V323.2M503.5 319.49V323.08M504 320.13V323.28M504.5 319.59V321.72M505 319.64V322.46M505.5 319.36V322.71M506 319.43V323.26M506.5 319.26V322.21M507 319.32V322.73M507.5 319.29V323.01M508 319.66V321.85M508.5 319.47V321.98M509 319.41V323.32M509.5 319.24V321.56M510 319.7V321.46M510.5 319V322.7M511 319.41V323.29M511.5 318.89V323.64M512 319.56V322.59M512.5 318.91V321.78M513 319.27V322.83M513.5 318.96V321.67M514 319.23V324.81M514.5 319.28V322.69M515 320.04V324.43M515.5 319.94V324.49M516 319.18V324.64M516.5 320.1V322.89M517 319.41V322.89M517.5 319.85V324.14M518 318.51V322.81M518.5 318.47V325.78M519 319V322.57M519.5 318.68V324.01M520 318.43V325.95M520.5 318.52V323.13M521 318.51V322.05M521.5 318.63V322.78M522 318.42V323.33M522.5 318.43V324.16M523 319.68V322.85M523.5 319.43V323.57M524 318.49V325.87M524.5 318.5V324.11M525 319.4V323.31M525.5 319.14V323.68M526 319.24V323.37M526.5 318.55V324.53M527 318.71V325.66M527.5 319.52V325.06M528 318.97V322.98M528.5 320.25V324.32M529 318.75V325.54M529.5 319.32V324.48M530 319.02V324.12M530.5 319.93V324.15M531 320.61V326.17M531.5 320.4V323.54M532 318.64V325.95M532.5 318.89V324.96M533 319.73V324.19M533.5 318.82V325.79M534 318.51V327.3M534.5 319.69V323.06M535 318.47V324.33M535.5 318.84V323.11M536 319.58V324.31M536.5 319.45V327.22M537 319.19V327.51M537.5 318.8V327.88M538 319.09V323.63M538.5 319.89V323.71M539 319.07V327.91M539.5 321.23V328.3M540 320.42V326.75M540.5 320.97V325.84M541 321.53V326.96M541.5 320.49V328.54M542 320.3V327.56M542.5 320.57V327.2M543 321.58V325.15M543.5 319.35V328.75M544 319.54V327.7M544.5 320.46V327.55M545 319.41V326.81M545.5 319.71V326.54M546 321.13V328.19M546.5 320.17V327.45M547 322.49V326.93M547.5 322.44V326M548 320.91V328.88M548.5 322.29V326.4M549 321.93V328.32M549.5 322.95V326.58M550 321.74V327.27M550.5 321.79V327.52M551 322.26V326.99M551.5 322.48V328.84M552 322.16V326.22M552.5 323.63V327.21M553 324.71V330.47M553.5 323.23V329.72M554 323.52V326.72M554.5 323.93V330.83M555 324.09V328.93M555.5 323.33V327.35M556 324.99V329.39M556.5 324.47V332.15M557 323.78V331.56M557.5 325.06V329.44M558 325.48V329.45M558.5 325.02V329.96M559 324.87V328.5M559.5 325.9V331.27M560 327.06V332.16M560.5 326.33V329.72M561 326.85V329.62M561.5 326.67V331.08M562 327.01V329.99M562.5 327.39V332.36M563 328.72V332.71M563.5 328.26V331.48M564 328.69V332.19M564.5 328.91V332.92M565 329.98V331.72M565.5 329.56V332.89M566 329.71V331.82M566.5 330.21V333.74M567 331.58V333.87M567.5 332.22V333.85" fill="none" stroke="#ff00ff" stroke-width="0.8"/>
<path d="M567 333.6 L570 333.9 L633.75 341" fill="none" stroke="#ff00ff" stroke-width="1.4" stroke-linejoin="round" />
<path d="M374.3 342 L480 342 L498.75 342.5 L509 343 L517.5 343.9 L524 345.1 L530 346.7 L536 348.4 L542.5 350.3 L548.75 353 L553.4 355.4 L633.75 355.5" fill="none" stroke="#ffa500" stroke-width="1.4" stroke-linejoin="round" />
<path d="M374.3 333.34 L568.7 306.85 L633.65 306.85" fill="none" stroke="#118811" stroke-width="1.4" stroke-linejoin="round" />
<line x1="498.99" y1="305.5" x2="498.99" y2="359.7" stroke="#3a983a" stroke-opacity="0.85" stroke-width="1.2" stroke-dasharray="1.9 1.05"/>
<line x1="518.5" y1="305.5" x2="518.5" y2="359.7" stroke="#3a983a" stroke-opacity="0.85" stroke-width="1.2" stroke-dasharray="1.9 1.05"/>
<line x1="529.91" y1="305.5" x2="529.91" y2="359.7" stroke="#3a983a" stroke-opacity="0.85" stroke-width="1.2" stroke-dasharray="1.9 1.05"/>
<line x1="538.01" y1="305.5" x2="538.01" y2="359.7" stroke="#3a983a" stroke-opacity="0.85" stroke-width="1.2" stroke-dasharray="1.9 1.05"/>
<line x1="544.29" y1="305.5" x2="544.29" y2="359.7" stroke="#3a983a" stroke-opacity="0.85" stroke-width="1.2" stroke-dasharray="1.9 1.05"/>
<line x1="549.42" y1="305.5" x2="549.42" y2="359.7" stroke="#3a983a" stroke-opacity="0.85" stroke-width="1.2" stroke-dasharray="1.9 1.05"/>
<line x1="553.76" y1="305.5" x2="553.76" y2="359.7" stroke="#3a983a" stroke-opacity="0.85" stroke-width="1.2" stroke-dasharray="1.9 1.05"/>
<line x1="557.51" y1="305.5" x2="557.51" y2="359.7" stroke="#3a983a" stroke-opacity="0.85" stroke-width="1.2" stroke-dasharray="1.9 1.05"/>
<line x1="560.83" y1="305.5" x2="560.83" y2="359.7" stroke="#3a983a" stroke-opacity="0.85" stroke-width="1.2" stroke-dasharray="1.9 1.05"/>
<line x1="563.79" y1="305.5" x2="563.79" y2="359.7" stroke="#3a983a" stroke-opacity="0.85" stroke-width="1.2" stroke-dasharray="1.9 1.05"/>
<line x1="566.48" y1="305.5" x2="566.48" y2="359.7" stroke="#3a983a" stroke-opacity="0.85" stroke-width="1.2" stroke-dasharray="1.9 1.05"/>
<rect x="378.7" y="317.2" width="54.5" height="38.6" rx="2" fill="#fff" fill-opacity="0.8" stroke="#d8d8d8" stroke-width="0.8"/>
<line x1="381.3" y1="323.9" x2="398.1" y2="323.9" stroke="#ff00ff" stroke-width="1.5"/>
<line x1="381.3" y1="335.75" x2="398.1" y2="335.75" stroke="#118811" stroke-width="1.5"/>
<line x1="381.3" y1="347.6" x2="398.1" y2="347.6" stroke="#ffa500" stroke-width="1.5"/>
<text x="403.6" y="327.1" class="lg" font-style="normal" font-size="9.4" letter-spacing="0.2">||</text>
<path d="M407.7 321.4 L413.6 321.4 L410.65 327.4 Z" fill="none" stroke="#222" stroke-width="0.75" stroke-linejoin="miter"/>
<text x="413.1" y="327.1" class="lg" font-size="9.2">W</text>
<text x="421" y="328.6" class="lg" font-size="5.8">d</text>
<text x="424.6" y="327.1" class="lg" font-style="normal" font-size="9.4" letter-spacing="0.2">||</text>
<text x="404" y="338.5" class="lg" font-size="8.2">ϵ</text>
<text x="404" y="349.8" class="lg" font-size="8.2">η</text>
<rect x="374.3" y="305.5" width="261.35" height="54.2" fill="none" stroke="#404040" stroke-width="1.15"/>
<line x1="371.5" y1="306.85" x2="374.3" y2="306.85" stroke="#404040" stroke-width="0.95"/>
<line x1="371.5" y1="333.34" x2="374.3" y2="333.34" stroke="#404040" stroke-width="0.95"/>
<line x1="371.5" y1="359.83" x2="374.3" y2="359.83" stroke="#404040" stroke-width="0.95"/>
<line x1="374.3" y1="359.7" x2="374.3" y2="362.5" stroke="#404040" stroke-width="0.95"/>
<line x1="393.81" y1="359.7" x2="393.81" y2="361.6" stroke="#2a2a2a" stroke-width="0.9"/>
<line x1="405.22" y1="359.7" x2="405.22" y2="361.6" stroke="#2a2a2a" stroke-width="0.9"/>
<line x1="413.31" y1="359.7" x2="413.31" y2="361.6" stroke="#2a2a2a" stroke-width="0.9"/>
<line x1="419.59" y1="359.7" x2="419.59" y2="361.6" stroke="#2a2a2a" stroke-width="0.9"/>
<line x1="424.72" y1="359.7" x2="424.72" y2="361.6" stroke="#2a2a2a" stroke-width="0.9"/>
<line x1="429.06" y1="359.7" x2="429.06" y2="361.6" stroke="#2a2a2a" stroke-width="0.9"/>
<line x1="432.82" y1="359.7" x2="432.82" y2="361.6" stroke="#2a2a2a" stroke-width="0.9"/>
<line x1="436.13" y1="359.7" x2="436.13" y2="361.6" stroke="#2a2a2a" stroke-width="0.9"/>
<line x1="439.1" y1="359.7" x2="439.1" y2="362.5" stroke="#404040" stroke-width="0.95"/>
<line x1="458.61" y1="359.7" x2="458.61" y2="361.6" stroke="#2a2a2a" stroke-width="0.9"/>
<line x1="470.02" y1="359.7" x2="470.02" y2="361.6" stroke="#2a2a2a" stroke-width="0.9"/>
<line x1="478.11" y1="359.7" x2="478.11" y2="361.6" stroke="#2a2a2a" stroke-width="0.9"/>
<line x1="484.39" y1="359.7" x2="484.39" y2="361.6" stroke="#2a2a2a" stroke-width="0.9"/>
<line x1="489.52" y1="359.7" x2="489.52" y2="361.6" stroke="#2a2a2a" stroke-width="0.9"/>
<line x1="493.86" y1="359.7" x2="493.86" y2="361.6" stroke="#2a2a2a" stroke-width="0.9"/>
<line x1="497.62" y1="359.7" x2="497.62" y2="361.6" stroke="#2a2a2a" stroke-width="0.9"/>
<line x1="500.93" y1="359.7" x2="500.93" y2="361.6" stroke="#2a2a2a" stroke-width="0.9"/>
<line x1="503.9" y1="359.7" x2="503.9" y2="362.5" stroke="#404040" stroke-width="0.95"/>
<line x1="523.41" y1="359.7" x2="523.41" y2="361.6" stroke="#2a2a2a" stroke-width="0.9"/>
<line x1="534.82" y1="359.7" x2="534.82" y2="361.6" stroke="#2a2a2a" stroke-width="0.9"/>
<line x1="542.91" y1="359.7" x2="542.91" y2="361.6" stroke="#2a2a2a" stroke-width="0.9"/>
<line x1="549.19" y1="359.7" x2="549.19" y2="361.6" stroke="#2a2a2a" stroke-width="0.9"/>
<line x1="554.32" y1="359.7" x2="554.32" y2="361.6" stroke="#2a2a2a" stroke-width="0.9"/>
<line x1="558.66" y1="359.7" x2="558.66" y2="361.6" stroke="#2a2a2a" stroke-width="0.9"/>
<line x1="562.42" y1="359.7" x2="562.42" y2="361.6" stroke="#2a2a2a" stroke-width="0.9"/>
<line x1="565.73" y1="359.7" x2="565.73" y2="361.6" stroke="#2a2a2a" stroke-width="0.9"/>
<line x1="568.7" y1="359.7" x2="568.7" y2="362.5" stroke="#404040" stroke-width="0.95"/>
<line x1="588.21" y1="359.7" x2="588.21" y2="361.6" stroke="#2a2a2a" stroke-width="0.9"/>
<line x1="599.62" y1="359.7" x2="599.62" y2="361.6" stroke="#2a2a2a" stroke-width="0.9"/>
<line x1="607.71" y1="359.7" x2="607.71" y2="361.6" stroke="#2a2a2a" stroke-width="0.9"/>
<line x1="613.99" y1="359.7" x2="613.99" y2="361.6" stroke="#2a2a2a" stroke-width="0.9"/>
<line x1="619.12" y1="359.7" x2="619.12" y2="361.6" stroke="#2a2a2a" stroke-width="0.9"/>
<line x1="623.46" y1="359.7" x2="623.46" y2="361.6" stroke="#2a2a2a" stroke-width="0.9"/>
<line x1="627.22" y1="359.7" x2="627.22" y2="361.6" stroke="#2a2a2a" stroke-width="0.9"/>
<line x1="630.53" y1="359.7" x2="630.53" y2="361.6" stroke="#2a2a2a" stroke-width="0.9"/>
<line x1="633.5" y1="359.7" x2="633.5" y2="362.5" stroke="#404040" stroke-width="0.95"/>
<text x="367.7" y="309.95" text-anchor="end" class="tl" font-size="8.8">10<tspan dx="0.6" dy="-3.1" font-size="6.3">0</tspan></text>
<text x="367.7" y="336.44" text-anchor="end" class="tl" font-size="8.8">10<tspan dx="0.6" dy="-3.1" font-size="4.8">-</tspan><tspan font-size="6.3">3</tspan></text>
<text x="367.7" y="362.93" text-anchor="end" class="tl" font-size="8.8">10<tspan dx="0.6" dy="-3.1" font-size="4.8">-</tspan><tspan font-size="6.3">6</tspan></text>
<text x="348.1" y="332.6" text-anchor="middle" class="tl" style="stroke-width:0.16" font-size="8.0" transform="rotate(-90 348.1 332.6)">CL-ITF-P</text>
<text x="374.9" y="371.3" text-anchor="middle" class="tl" font-size="8.8">10<tspan dx="0.6" dy="-3.1" font-size="6.3">0</tspan></text>
<text x="439.7" y="371.3" text-anchor="middle" class="tl" font-size="8.8">10<tspan dx="0.6" dy="-3.1" font-size="6.3">1</tspan></text>
<text x="504.5" y="371.3" text-anchor="middle" class="tl" font-size="8.8">10<tspan dx="0.6" dy="-3.1" font-size="6.3">2</tspan></text>
<text x="569.3" y="371.3" text-anchor="middle" class="tl" font-size="8.8">10<tspan dx="0.6" dy="-3.1" font-size="6.3">3</tspan></text>
<text x="634.1" y="371.3" text-anchor="middle" class="tl" font-size="8.8">10<tspan dx="0.6" dy="-3.1" font-size="6.3">4</tspan></text>
<text x="504.9" y="382.5" text-anchor="middle" class="tl" font-size="8.7">epoch</text>
<text x="475.9" y="414" class="cap" font-size="14" textLength="16.0" lengthAdjust="spacingAndGlyphs">(c)</text>
<text x="496.5" y="414" class="cap" font-size="14" textLength="30.6" lengthAdjust="spacingAndGlyphs">GRU</text>
<rect x="348.2" y="433.2" width="1.6" height="1.8" fill="#b0b0b0"/>
<rect x="352.4" y="433.2" width="1.6" height="1.8" fill="#b0b0b0"/>
<rect x="389.4" y="433.2" width="1.6" height="1.8" fill="#b0b0b0"/>
<rect x="392.8" y="433.2" width="1.6" height="1.8" fill="#b0b0b0"/>
</svg></body></html>
